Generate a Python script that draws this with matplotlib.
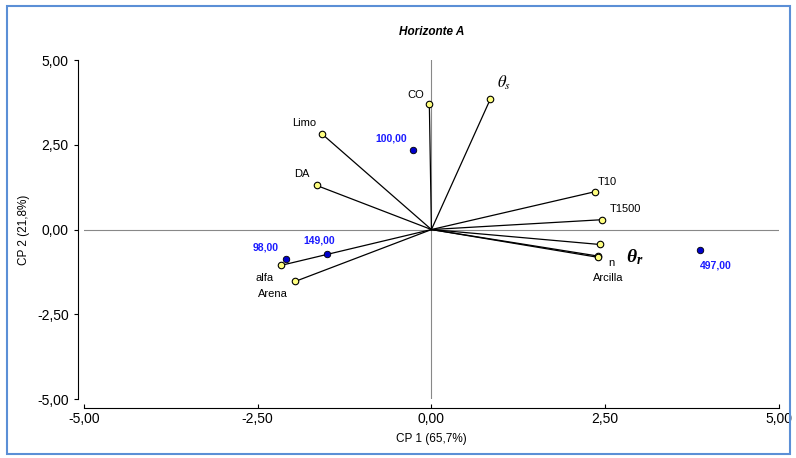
import matplotlib.pyplot as plt
from matplotlib.patches import Rectangle

plt.rcParams['font.family'] = ['Liberation Sans', 'DejaVu Sans']
plt.rcParams['mathtext.fontset'] = 'stix'
# bold italic serif for theta_r
plt.rcParams['mathtext.it'] = 'Liberation Serif:italic:bold'

# variable loadings (CP1, CP2)
var_names = ["CO", r"$\theta_s$", "Limo", "DA", "T10", "T1500", r"$\theta_r$", "n", "Arcilla", "alfa", "Arena"]
var_x = [-0.03, 0.85, -1.58, -1.65, 2.36, 2.45, 2.42, 2.39, 2.40, -2.17, -1.96]
var_y = [3.69, 3.86, 2.83, 1.30, 1.12, 0.29, -0.44, -0.78, -0.82, -1.06, -1.53]

# observation scores
obs_names = ["100,00", "98,00", "149,00", "497,00"]
obs_x = [-0.26, -2.10, -1.51, 3.86]
obs_y = [2.36, -0.86, -0.71, -0.59]

xticks = [-5, -2.5, 0, 2.5, 5]
yticks = [-5, -2.5, 0, 2.5, 5]

fig = plt.figure(figsize=(7.96, 4.58), dpi=100)
fig.patches.append(Rectangle((0.009, 0.008), 0.983, 0.979, transform=fig.transFigure,
                             fill=False, edgecolor='#5b8fd6', linewidth=1.5))
ax = fig.add_axes([0.1055, 0.1288, 0.873, 0.740])
ax.set_xlim(-5, 5)
ax.set_ylim(-5, 5)

ax.axhline(0, color='#888888', lw=0.8, zorder=1)
ax.axvline(0, color='#888888', lw=0.8, zorder=1)

for x, y in zip(var_x, var_y):
    ax.plot([0, x], [0, y], color='black', lw=0.9, zorder=2)
ax.scatter(var_x, var_y, s=22, color='#ffff80', edgecolor='black', linewidth=0.8, zorder=3)
ax.scatter(obs_x, obs_y, s=22, color='#0000cc', edgecolor='black', linewidth=0.6, zorder=3)

# label offsets in pixels
var_off = [(-14, 9), (14, 16), (-17, 11), (-15, 11), (12, 10), (24, 11), (35, -13), (14, -7), (10, -21), (-16, -13), (-22, -13)]
for name, x, y, (dx, dy) in zip(var_names, var_x, var_y, var_off):
    if name == r"$\theta_r$":
        ax.annotate(name, (x, y), xytext=(dx * 0.72, dy * 0.72), textcoords='offset points',
                    ha='center', va='center', fontsize=14, math_fontfamily='custom')
    elif name.startswith("$"):
        ax.annotate(name, (x, y), xytext=(dx * 0.72, dy * 0.72), textcoords='offset points',
                    ha='center', va='center', fontsize=12)
    else:
        ax.annotate(name, (x, y), xytext=(dx * 0.72, dy * 0.72), textcoords='offset points',
                    ha='center', va='center', fontsize=8)

obs_off = [(-22, 11), (-20, 11), (-7, 13), (16, -16)]
for name, x, y, (dx, dy) in zip(obs_names, obs_x, obs_y, obs_off):
    ax.annotate(name, (x, y), xytext=(dx * 0.72, dy * 0.72), textcoords='offset points',
                ha='center', va='center', fontsize=7.5, fontweight='bold', color='#1a1aff')

ax.set_xticks(xticks)
ax.set_yticks(yticks)
ax.set_xticklabels([f"{t:.2f}".replace('.', ',') for t in xticks], fontsize=7)
ax.set_yticklabels([f"{t:.2f}".replace('.', ',') for t in yticks], fontsize=7)
ax.spines['top'].set_visible(False)
ax.spines['right'].set_visible(False)
ax.spines['left'].set_position(('outward', 4.5))
ax.spines['bottom'].set_position(('outward', 6.5))
ax.tick_params(axis='x', direction='in', length=3, pad=3)
ax.tick_params(axis='y', direction='out', length=3)
ax.set_xlabel("CP 1 (65,7%)", fontsize=8.5, labelpad=5)
ax.set_ylabel("CP 2 (21,8%)", fontsize=8.5, labelpad=5)
ax.set_title("Horizonte A", fontsize=8.5, fontweight='bold', style='italic', pad=18)

fig.savefig("out.png", dpi=100)
